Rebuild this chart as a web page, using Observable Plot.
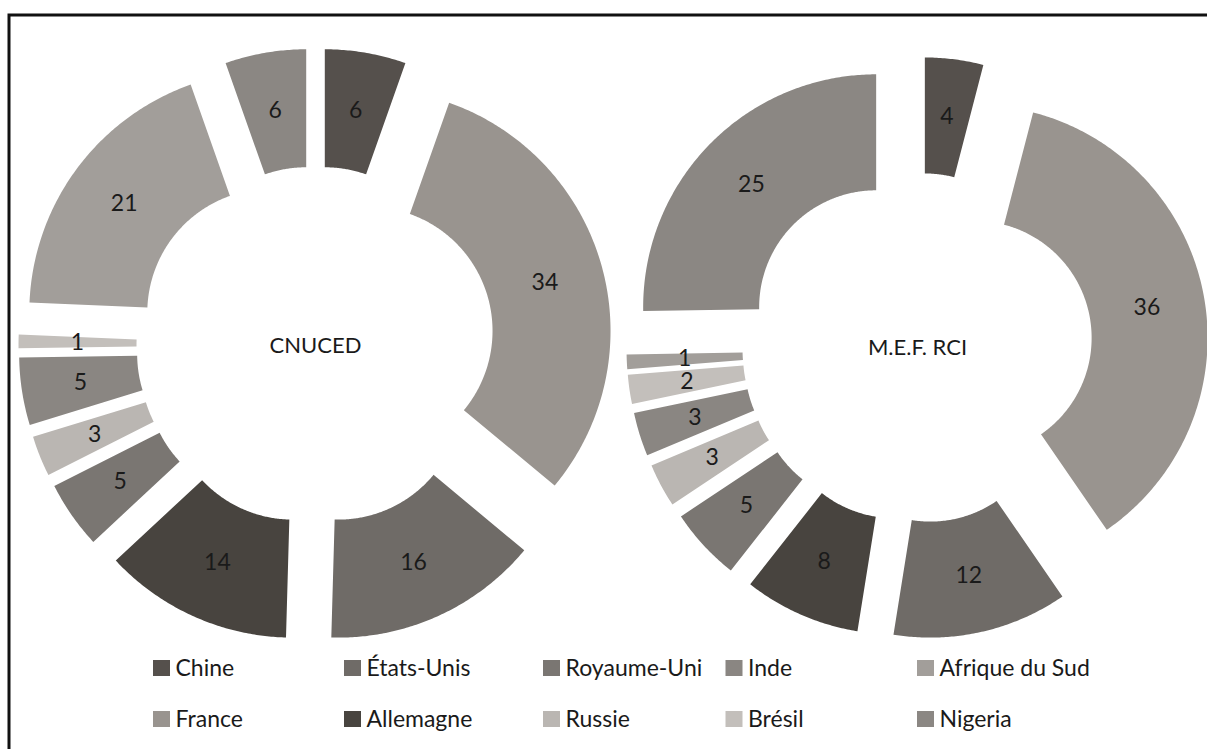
<!DOCTYPE html>
<html>
<head>
<meta charset="utf-8">
<script src="https://cdn.jsdelivr.net/npm/d3@7"></script>
<script src="https://cdn.jsdelivr.net/npm/@observablehq/plot@0.6"></script>
<style>
  html, body { margin: 0; padding: 0; background: #fff; }
  #chart { width: 1207px; height: 749px; overflow: hidden; }
  svg { display: block; }
</style>
</head>
<body>
<div id="chart"></div>
<script>
// ---- data ----
const categories = ["Chine", "France", "États-Unis", "Allemagne", "Royaume-Uni", "Russie", "Inde", "Brésil", "Afrique du Sud", "Nigeria"];
const cnucedValues = [6, 34, 16, 14, 5, 3, 5, 1, 21, 6];
const mefRciValues = [4, 36, 12, 8, 5, 3, 3, 2, 1, 25];
const colors = ["#55504c", "#99948f", "#6f6b67", "#48443f", "#7a7672", "#bab6b2", "#8a8682", "#c3bfbb", "#a29e9a", "#8b8783"];
const legendOrder = ["Chine", "États-Unis", "Royaume-Uni", "Inde", "Afrique du Sud", "France", "Allemagne", "Russie", "Brésil", "Nigeria"];
const donutTitles = ["CNUCED", "M.E.F. RCI"];

// ---- layout ----
const W = 1207, H = 749;
const FONT = "Lato, 'Open Sans', sans-serif";
const donuts = [
  {title: donutTitles[0], values: cnucedValues, cx: 315, cy: 345, R: 242, r: 124, d: 55},
  {title: donutTitles[1], values: mefRciValues, cx: 917, cy: 347.5, R: 233, r: 117, d: 58}
];

const polyPoints = [];
const labels = [];
const centers = [];
donuts.forEach((dn, k) => {
  const total = d3.sum(dn.values);
  let acc = 0;
  centers.push({x: dn.cx, y: dn.cy, text: dn.title});
  dn.values.forEach((v, i) => {
    const a0 = acc / total * 2 * Math.PI;
    acc += v;
    const a1 = acc / total * 2 * Math.PI;
    const mid = (a0 + a1) / 2;
    const ox = dn.cx + dn.d * Math.sin(mid);
    const oy = dn.cy - dn.d * Math.cos(mid);
    const n = Math.max(2, Math.ceil((a1 - a0) / (Math.PI / 360)));
    const id = k + "-" + i;
    const country = categories[i];
    for (let j = 0; j <= n; j++) {
      const a = a0 + (a1 - a0) * j / n;
      polyPoints.push({id, country, x: ox + dn.R * Math.sin(a), y: oy - dn.R * Math.cos(a)});
    }
    for (let j = n; j >= 0; j--) {
      const a = a0 + (a1 - a0) * j / n;
      polyPoints.push({id, country, x: ox + dn.r * Math.sin(a), y: oy - dn.r * Math.cos(a)});
    }
    const lr = (dn.R + dn.r) / 2;
    labels.push({x: ox + lr * Math.sin(mid), y: oy - lr * Math.cos(mid), text: String(v)});
  });
});

// legend (2 rows x 5 columns)
const legendColX = [153, 344, 543, 725.5, 917];
const legendRowY = [668, 719];
const legendItems = legendOrder.map((c, i) => {
  const col = i % 5, row = Math.floor(i / 5);
  const x = legendColX[col], y = legendRowY[row];
  return {country: c, x1: x, x2: x + 17, y1: y - 8, y2: y + 8, tx: x + 22, ty: y};
});

const chart = Plot.plot({
  width: W,
  height: H,
  margin: 0,
  style: {background: "#fff", fontFamily: FONT},
  x: {domain: [0, W], range: [0, W], axis: null},
  y: {domain: [0, H], range: [0, H], axis: null},
  color: {domain: categories, range: colors},
  marks: [
    Plot.line(polyPoints, {x: "x", y: "y", z: "id", fill: "country", stroke: "none", curve: "linear"}),
    Plot.text(labels, {x: "x", y: "y", text: "text", fontSize: 23, fill: "#1a1a1a", fontFamily: FONT}),
    Plot.text(centers, {x: "x", y: "y", text: "text", fontSize: 22, fill: "#1a1a1a", fontFamily: FONT}),
    Plot.rect(legendItems, {x1: "x1", x2: "x2", y1: "y1", y2: "y2", fill: "country"}),
    Plot.text(legendItems, {x: "tx", y: "ty", text: "country", textAnchor: "start", fontSize: 23, fill: "#1a1a1a", fontFamily: FONT}),
    Plot.frame({stroke: "#111", strokeWidth: 3, insetLeft: 8.5, insetTop: 14.5, insetRight: -10, insetBottom: -10})
  ]
});
document.getElementById("chart").appendChild(chart);
</script>
</body>
</html>
